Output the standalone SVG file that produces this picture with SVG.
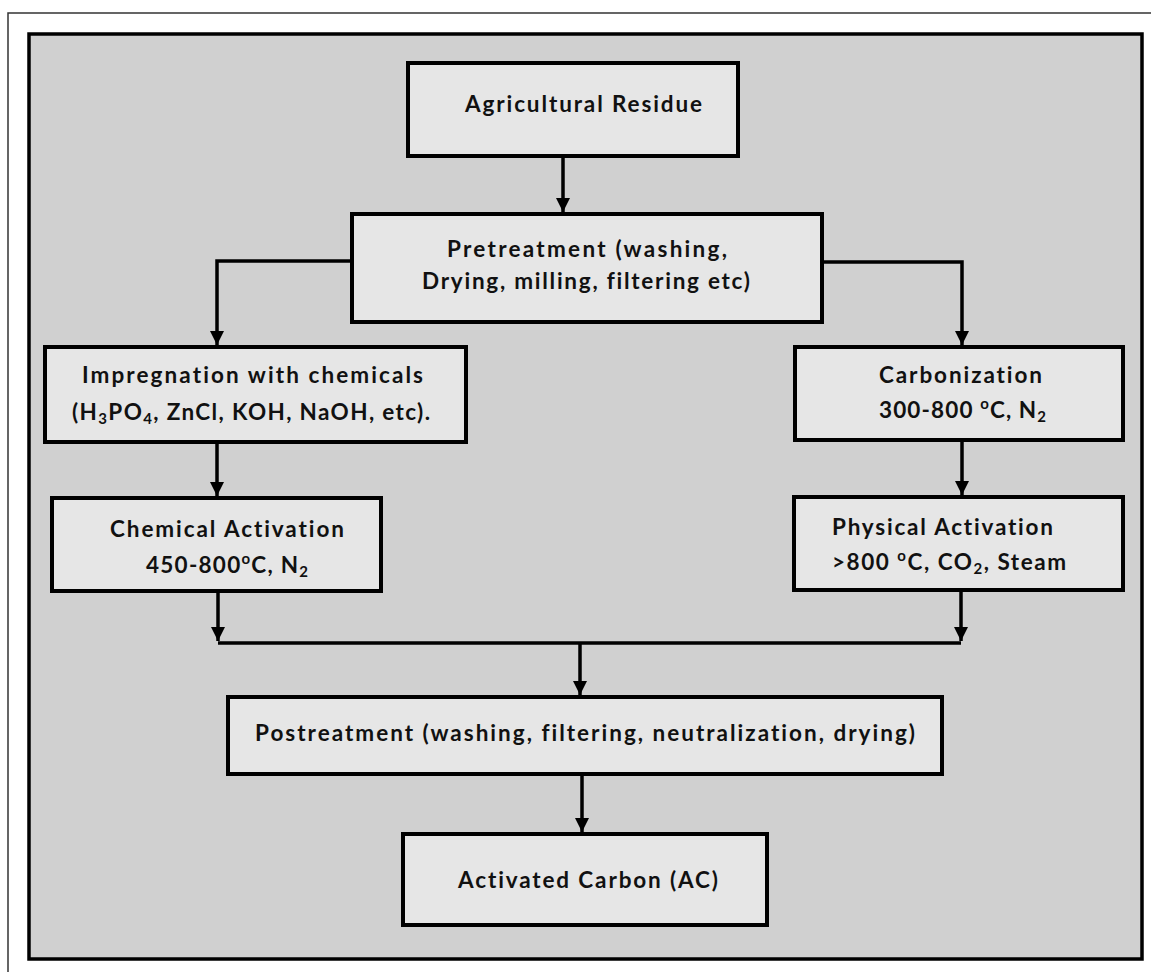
<svg xmlns="http://www.w3.org/2000/svg" width="1151" height="972" viewBox="0 0 1151 972">
<defs>
<style>
.box{fill:#e6e6e6;stroke:#000;stroke-width:4}
.t{font-family:Lato,"Open Sans","Liberation Sans",sans-serif;font-weight:bold;font-size:22.5px;fill:#111;font-variant-ligatures:none;font-feature-settings:"liga" 0,"dlig" 0}
.c{fill:none;stroke:#000;stroke-width:3.5}
.sub{font-size:15px}
</style>
<marker id="down" markerUnits="userSpaceOnUse" markerWidth="16" markerHeight="16" viewBox="0 0 16 16" refX="8" refY="15" orient="0">
<path d="M1,1 L15,1 L8,15 Z" fill="#000"/>
</marker>
</defs>
<rect x="0" y="0" width="1151" height="972" fill="#fff"/>
<path d="M8,972 V13 H1151" fill="none" stroke="#333" stroke-width="1.5"/>
<rect x="29" y="34" width="1113" height="925" fill="#d0d0d0" stroke="#000" stroke-width="3.5"/>

<g id="connectors">
<path class="c" d="M563,157 V212" marker-end="url(#down)"/>
<path class="c" d="M352,261 H217 V345" marker-end="url(#down)"/>
<path class="c" d="M822,262 H962 V345" marker-end="url(#down)"/>
<path class="c" d="M217,443 V496" marker-end="url(#down)"/>
<path class="c" d="M962,441 V495" marker-end="url(#down)"/>
<path class="c" d="M218,592 V641" marker-end="url(#down)"/>
<path class="c" d="M961,591 V641" marker-end="url(#down)"/>
<path class="c" d="M218,643 H961"/>
<path class="c" d="M580,643 V695" marker-end="url(#down)"/>
<path class="c" d="M582,775 V832" marker-end="url(#down)"/>
</g>

<g id="agri">
<rect class="box" x="408" y="63" width="330" height="93"/>
<text class="t" x="465" y="112" textLength="237">Agricultural Residue</text>
</g>

<g id="pretreatment">
<rect class="box" x="352" y="214" width="470" height="108"/>
<text class="t" x="447" y="257" textLength="280">Pretreatment (washing,</text>
<text class="t" x="422" y="289" textLength="328">Drying, milling, filtering etc)</text>
</g>

<g id="impregnation">
<rect class="box" x="45" y="347" width="421" height="95"/>
<text class="t" x="82" y="383" textLength="341">Impregnation with chemicals</text>
<text class="t" x="72" y="420" textLength="358">(H<tspan class="sub" dy="4">3</tspan><tspan dy="-4">PO</tspan><tspan class="sub" dy="4">4</tspan><tspan dy="-4">, ZnCl, KOH, NaOH, etc).</tspan></text>
</g>

<g id="carbonization">
<rect class="box" x="795" y="347" width="328" height="93"/>
<text class="t" x="879" y="383" textLength="163">Carbonization</text>
<text class="t" x="879" y="418" textLength="167">300-800 <tspan class="sub" dy="-9">o</tspan><tspan dy="9">C, N</tspan><tspan class="sub" dy="4">2</tspan></text>
</g>

<g id="chemical">
<rect class="box" x="52" y="498" width="329" height="93"/>
<text class="t" x="110" y="537" textLength="234">Chemical Activation</text>
<text class="t" x="146" y="573" textLength="162">450-800<tspan class="sub" dy="-9">o</tspan><tspan dy="9">C, N</tspan><tspan class="sub" dy="4">2</tspan></text>
</g>

<g id="physical">
<rect class="box" x="794" y="497" width="329" height="93"/>
<text class="t" x="832" y="535" textLength="221">Physical Activation</text>
<text class="t" x="832" y="570" textLength="234">&gt;800 <tspan class="sub" dy="-9">o</tspan><tspan dy="9">C, CO</tspan><tspan class="sub" dy="4">2</tspan><tspan dy="-4">, Steam</tspan></text>
</g>

<g id="postreatment">
<rect class="box" x="228" y="697" width="714" height="77"/>
<text class="t" x="255" y="741" textLength="660">Postreatment (washing, filtering, neutralization, drying)</text>
</g>

<g id="activated">
<rect class="box" x="403" y="834" width="364" height="91"/>
<text class="t" x="458" y="888" textLength="260">Activated Carbon (AC)</text>
</g>
</svg>
